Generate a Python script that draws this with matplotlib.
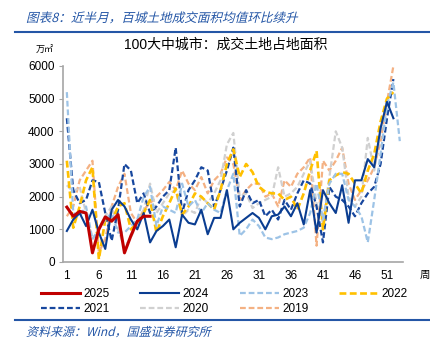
import matplotlib
matplotlib.use('Agg')
import matplotlib.pyplot as plt
import numpy as np
from matplotlib.textpath import TextPath
from matplotlib.patches import PathPatch
from matplotlib.font_manager import FontProperties
from matplotlib.transforms import Affine2D

plt.rcParams['font.family'] = ['Liberation Sans', 'Noto Sans CJK SC', 'DejaVu Sans']

# weekly land area, 10k sqm
y2025 = [1680, 1400, 1550, 1500, 280, 1000, 1380, 1250, 1450, 280, 800, 1250, 1400, 1400]
y2024 = [950, 1300, 1500, 1100, 1600, 900, 400, 1600, 1900, 1700,
         1300, 1000, 1500, 600, 950, 1100, 1300, 450, 1450, 1200,
         1150, 1600, 850, 1350, 1350, 2200, 1000, 1200, 1350, 1500,
         1350, 1000, 1400, 1450, 1700, 1400, 1800, 1150, 2200, 900,
         2200, 1800, 1500, 2350, 1200, 2500, 2500, 3150, 2900, 4100,
         4900, 4400]
y2023 = [5200, 1500, 1400, 1700, 700, 1000, 1300, 1500, 900, 900,
         1100, 1300, 2000, 2300, 1100, 1700, 1600, 1500, 2400, 1700,
         1900, 1500, 1800, 1600, 1500, 2200, 2700, 800, 1000, 1300,
         1100, 750, 700, 750, 850, 900, 950, 1050, 1500, 2400,
         1300, 2400, 2700, 2700, 1900, 1700, 1400, 600, 1900, 3300,
         4800, 5500, 3700]
y2022 = [3100, 1050, 1700, 2500, 2900, 80, 1300, 1250, 1700, 1800,
         1000, 1200, 1500, 1900, 900, 1400, 1800, 2250, 1450, 1700,
         2100, 2000, 1800, 1600, 2200, 3000, 3450, 2600, 3000, 2750,
         2300, 2150, 2100, 2100, 1900, 2000, 1600, 2100, 2800, 3400,
         1000, 2500, 2650, 2750, 2700, 2400, 2100, 2800, 3300, 4300,
         5000, 5200]
y2021 = [4400, 2200, 1800, 1900, 2500, 2450, 1500, 650, 1600, 3000,
         2800, 1800, 2100, 1500, 1700, 2000, 2200, 3500, 1500, 2200,
         2500, 2900, 2800, 1700, 2200, 2800, 3500, 1700, 2200, 1800,
         1900, 1400, 1600, 1300, 1900, 1600, 2100, 2500, 2400, 1700,
         600, 2300, 2000, 1900, 1700, 1400, 1800, 2100, 2300, 3000,
         4400, 5600]
y2020 = [2350, 2150, 2300, 1500, 700, 1000, 1400, 1700, 1000, 450,
         750, 1200, 1600, 2400, 1500, 1800, 2100, 2200, 1400, 1600,
         1500, 2000, 1800, 2100, 2500, 3600, 3950, 2000, 2100, 1650,
         1800, 1900, 2000, 2900, 2000, 2100, 2300, 2700, 3100, 1800,
         1200, 2600, 4000, 3500, 2000, 1700, 2000, 3800, 2800, 4000,
         5000]
y2019 = [1400, 1700, 2500, 2800, 3100, 300, 700, 1700, 2300, 2700,
         1500, 1200, 1600, 1800, 2000, 2200, 2450, 2200, 2800, 2400,
         2200, 2600, 2100, 2500, 2700, 3200, 3000, 1900, 2200, 2400,
         2400, 2000, 2100, 1700, 2500, 2300, 2700, 2900, 3200, 500,
         3100, 2800, 3100, 3500, 2400, 1900, 2200, 2500, 2900, 3700,
         4900, 6000]

xticks = [1, 6, 11, 16, 21, 26, 31, 36, 41, 46, 51]

W, H = 430, 346
fig = plt.figure(figsize=(4.3, 3.46), dpi=100)
ax = fig.add_axes([63/W, 1-262/H, 340/W, 196/H])

dash = (0, (2.6, 1.3))
series = [
    ('2019', y2019, '#F4B183', dash, 1.6),
    ('2020', y2020, '#D0D0D0', dash, 1.6),
    ('2021', y2021, '#17479E', dash, 1.6),
    ('2022', y2022, '#FFC000', dash, 1.9),
    ('2023', y2023, '#9DC3E6', dash, 1.6),
    ('2024', y2024, '#0A3D91', '-', 1.5),
    ('2025', y2025, '#C00000', '-', 2.2),
]
lines = {}
for name, vals, col, ls, lw in series:
    w = np.arange(1, len(vals) + 1)
    l, = ax.plot(w, vals, color=col, linestyle=ls, lw=lw, label=name)
    lines[name] = l

ax.set_xlim(0.4, 53.5)
ax.set_ylim(0, 6000)
ax.set_yticks(np.arange(0, 6001, 1000))
ax.set_xticks(xticks)
ax.tick_params(axis='y', labelsize=8.5, length=3, color='#A6A6A6', pad=3)
ax.tick_params(axis='x', labelsize=8.5, length=0, pad=6)
for s in ['top', 'right']:
    ax.spines[s].set_visible(False)
for s in ['left', 'bottom']:
    ax.spines[s].set_color('#A6A6A6')
    ax.spines[s].set_linewidth(1.2)

order = ['2025', '2021', '2024', '2020', '2023', '2019', '2022']
fig.legend([lines[k] for k in order], order, ncol=4, loc='upper left',
           bbox_to_anchor=(36/W, 1-283/H), frameon=False, fontsize=8.5,
           handlelength=3.3, columnspacing=2.6, labelspacing=0.25,
           handletextpad=0.3, borderaxespad=0)

blue = '#2456A6'
cjk = FontProperties(family='Noto Sans CJK SC')


def italic_text(x, y_top, s, size_px):
    # slanted text drawn as a path, x/y in pixels from top-left, y is baseline
    tp = TextPath((0, 0), s, size=size_px, prop=cjk)
    tr = Affine2D().skew_deg(14, 0).translate(x, H - y_top)
    fig.add_artist(PathPatch(tp, transform=tr, color=blue, lw=0))


italic_text(26, 22, '图表8：近半月，百城土地成交面积均值环比续升', 12.6)
fig.add_artist(plt.Line2D([15/W, 1], [1-32/H, 1-32/H], color=blue, lw=1.5))
fig.text(226/W, 1-45/H, '100大中城市：成交土地占地面积', fontsize=10,
         ha='center', va='center', family=['Liberation Sans', 'Noto Sans CJK SC'])
fig.text(45/W, 1-50/H, '万㎡', fontsize=6.5, ha='center', va='center',
         family=['Noto Sans CJK SC', 'DejaVu Sans'])
fig.text(425/W, 1-275/H, '周', fontsize=7.5, ha='center', va='center',
         family=['Noto Sans CJK SC'])
fig.add_artist(plt.Line2D([15/W, 1], [1-320/H, 1-320/H], color=blue, lw=1.5))
italic_text(26, 336, '资料来源：Wind，国盛证券研究所', 12.0)

fig.savefig('out.png', dpi=100)
